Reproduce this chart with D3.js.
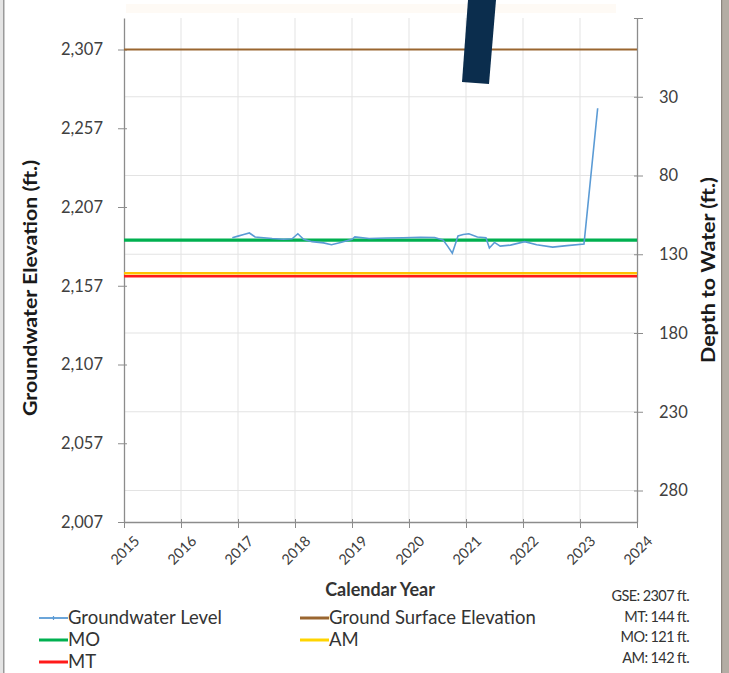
<!DOCTYPE html>
<html>
<head>
<meta charset="utf-8">
<script src="https://cdnjs.cloudflare.com/ajax/libs/d3/7.8.5/d3.min.js"></script>
<style>
body { margin: 0; background: #fff; }
svg { display: block; font-family: Lato, "Open Sans", sans-serif; }
</style>
</head>
<body>
<div id="chart"></div>
<script>
// groundwater level readings (decimal year, elevation ft)
var gwYears = [2016.90, 2017.00, 2017.10, 2017.20, 2017.30, 2017.45, 2017.60, 2017.80, 2017.95, 2018.05,
               2018.15, 2018.30, 2018.50, 2018.64, 2018.80, 2019.00, 2019.05, 2019.30, 2019.60, 2019.90,
               2020.20, 2020.45, 2020.60, 2020.68, 2020.76, 2020.86, 2020.95, 2021.05, 2021.20, 2021.35,
               2021.41, 2021.50, 2021.60, 2021.78, 2022.03, 2022.24, 2022.52, 2022.77, 2023.07, 2023.31];
var gwElev  = [2187.5, 2188.5, 2189.5, 2190.5, 2188.0, 2187.5, 2187.0, 2186.5, 2186.8, 2190.0,
               2186.5, 2185.0, 2184.2, 2183.0, 2184.5, 2186.5, 2188.0, 2187.0, 2187.3, 2187.5,
               2187.8, 2187.6, 2186.0, 2182.0, 2177.7, 2188.6, 2189.5, 2190.0, 2188.0, 2187.5,
               2181.0, 2184.5, 2182.2, 2182.8, 2185.0, 2183.0, 2181.5, 2182.5, 2183.5, 2269.7];

var gse = 2307;
var depthNames  = ["MO", "AM", "MT"];
var depthValues = [121, 142, 144];

var xTicks = [2015, 2016, 2017, 2018, 2019, 2020, 2021, 2022, 2023, 2024];
var leftTicks = [2007, 2057, 2107, 2157, 2207, 2257, 2307];
var rightTicks = [-20, 30, 80, 130, 180, 230, 280];

var width = 729, height = 673;
var plotLeft = 124, plotRight = 637, plotTop = 18, plotBottom = 522;

var svg = d3.select("#chart").append("svg").attr("width", width).attr("height", height);

var x = d3.scaleLinear().domain([2015, 2024]).range([plotLeft, plotRight]);
var y = d3.scaleLinear().domain([2007, 2327]).range([plotBottom, plotTop]);
var yDepth = d3.scaleLinear().domain([300, -20]).range([plotBottom, plotTop]);

// frame on left edge, stone strip on right edge, faint band at top
svg.append("rect").attr("x", 0).attr("y", 0).attr("width", 3).attr("height", height).attr("fill", "#e4e4e4");
svg.append("rect").attr("x", 3).attr("y", 0).attr("width", 1.5).attr("height", height).attr("fill", "#9a9a9a");
svg.append("rect").attr("x", 722).attr("y", 0).attr("width", 7).attr("height", height).attr("fill", "#b3ada4");
svg.append("rect").attr("x", 721).attr("y", 0).attr("width", 1.2).attr("height", height).attr("fill", "#8a857e");
svg.append("rect").attr("x", plotLeft + 2).attr("y", 4).attr("width", 490).attr("height", 9).attr("fill", "#fefaf5");

// grid
svg.selectAll("line.vgrid").data(xTicks.slice(1, -1)).enter().append("line")
    .attr("class", "vgrid")
    .attr("x1", function(d) { return x(d); }).attr("x2", function(d) { return x(d); })
    .attr("y1", plotTop).attr("y2", plotBottom)
    .attr("stroke", "#e3e3e3").attr("stroke-width", 1);
svg.selectAll("line.hgrid").data(rightTicks.slice(1)).enter().append("line")
    .attr("class", "hgrid")
    .attr("x1", plotLeft).attr("x2", plotRight)
    .attr("y1", function(d) { return yDepth(d); }).attr("y2", function(d) { return yDepth(d); })
    .attr("stroke", "#e3e3e3").attr("stroke-width", 1);

// axes
var axisColor = "#8c8c8c";
var yAxis = d3.axisLeft(y).tickValues(leftTicks).tickSizeInner(6).tickSizeOuter(0).tickPadding(15)
    .tickFormat(d3.format(","));
var yAxisR = d3.axisRight(yDepth).tickValues(rightTicks).tickSizeInner(6).tickSizeOuter(0).tickPadding(16)
    .tickFormat(function(d) { return d < 0 ? "" : d; });
var xAxis = d3.axisBottom(x).tickValues(xTicks).tickSizeInner(6).tickSizeOuter(0).tickFormat(d3.format("d"));

var gl = svg.append("g").attr("transform", "translate(" + plotLeft + ",0)").call(yAxis);
var gr = svg.append("g").attr("transform", "translate(" + plotRight + ",0)").call(yAxisR);
var gx = svg.append("g").attr("transform", "translate(0," + plotBottom + ")").call(xAxis);

[gl, gr, gx].forEach(function(g) {
    g.select(".domain").attr("stroke", axisColor).attr("stroke-width", 1.3);
    g.selectAll(".tick line").attr("stroke", axisColor);
    g.selectAll("text").attr("fill", "#404040").attr("font-size", 16.5).attr("font-family", "Lato, sans-serif");
});
gl.selectAll(".tick line").attr("x1", 3);
gr.selectAll(".tick line").attr("x1", -3);
gx.selectAll(".tick line").attr("y1", -3);
gx.selectAll("text")
    .attr("font-size", 14.5)
    .attr("text-anchor", "end")
    .attr("dy", "0.35em")
    .attr("transform", "translate(6,10) rotate(-45)");

// reference lines
svg.append("line").attr("x1", plotLeft).attr("x2", plotRight).attr("y1", y(gse)).attr("y2", y(gse))
    .attr("stroke", "#9a6630").attr("stroke-width", 2.2);
var refColors = {MO: "#00b050", AM: "#ffc000", MT: "#ff1a1a"};
var refWidths = {MO: 3.2, AM: 2.5, MT: 2.5};
svg.selectAll("line.ref").data(depthNames).enter().append("line")
    .attr("class", "ref")
    .attr("x1", plotLeft).attr("x2", plotRight)
    .attr("y1", function(d, i) { return y(gse - depthValues[i]); })
    .attr("y2", function(d, i) { return y(gse - depthValues[i]); })
    .attr("stroke", function(d) { return refColors[d]; })
    .attr("stroke-width", function(d) { return refWidths[d]; });

// groundwater level
var gw = gwYears.map(function(d, i) { return [d, gwElev[i]]; });
svg.append("path").datum(gw)
    .attr("d", d3.line().x(function(d) { return x(d[0]); }).y(function(d) { return y(d[1]); }))
    .attr("fill", "none").attr("stroke", "#5b9bd5").attr("stroke-width", 1.6);

// dark slash overlay
svg.append("polygon").attr("points", "468,0 496,0 489,84 462,82").attr("fill", "#0b2d4d");

// axis titles
svg.append("text").attr("transform", "translate(37,288) rotate(-90)")
    .attr("text-anchor", "middle").attr("font-size", 19.5).attr("font-weight", "bold").attr("fill", "#1a1a1a")
    .attr("textLength", 256).attr("lengthAdjust", "spacingAndGlyphs")
    .text("Groundwater Elevation (ft.)");
svg.append("text").attr("transform", "translate(715,270) rotate(-90)")
    .attr("text-anchor", "middle").attr("font-size", 19.5).attr("font-weight", "bold").attr("fill", "#1a1a1a")
    .attr("textLength", 186).attr("lengthAdjust", "spacingAndGlyphs")
    .text("Depth to Water (ft.)");
svg.append("text").attr("x", 380).attr("y", 596)
    .attr("text-anchor", "middle").attr("font-size", 18).attr("font-weight", "bold").attr("fill", "#333")
    .text("Calendar Year");

// legend
var legendNames = ["Groundwater Level", "Ground Surface Elevation", "MO", "AM", "MT"];
var legendColors = ["#5b9bd5", "#9a6630", "#00b050", "#ffd400", "#ff1a1a"];
var legendX = [39, 300, 39, 300, 39];
var legendY = [618, 618, 640, 640, 662];
var lg = svg.selectAll("g.leg").data(legendNames).enter().append("g")
    .attr("class", "leg")
    .attr("transform", function(d, i) { return "translate(" + legendX[i] + "," + legendY[i] + ")"; });
lg.append("line").attr("x1", 0).attr("x2", 29).attr("y1", 0).attr("y2", 0)
    .attr("stroke", function(d, i) { return legendColors[i]; })
    .attr("stroke-width", function(d, i) { return i === 0 ? 1.8 : 3; });
lg.filter(function(d, i) { return i === 0; }).append("line")
    .attr("x1", 14.5).attr("x2", 14.5).attr("y1", -2).attr("y2", 2)
    .attr("stroke", "#5b9bd5").attr("stroke-width", 1.2);
lg.append("text").attr("x", 29).attr("y", 0).attr("dy", "0.35em")
    .attr("font-size", 18.5).attr("fill", "#333").text(function(d) { return d; });

// notes
var notes = ["GSE: 2307 ft.", "MT: 144 ft.", "MO: 121 ft.", "AM: 142 ft."];
svg.selectAll("text.note").data(notes).enter().append("text")
    .attr("class", "note")
    .attr("x", 689).attr("y", function(d, i) { return 596 + i * 20.5; })
    .attr("dy", "0.35em").attr("text-anchor", "end")
    .attr("font-size", 14.5).attr("letter-spacing", -0.6).attr("fill", "#333").text(function(d) { return d; });
</script>
</body>
</html>
